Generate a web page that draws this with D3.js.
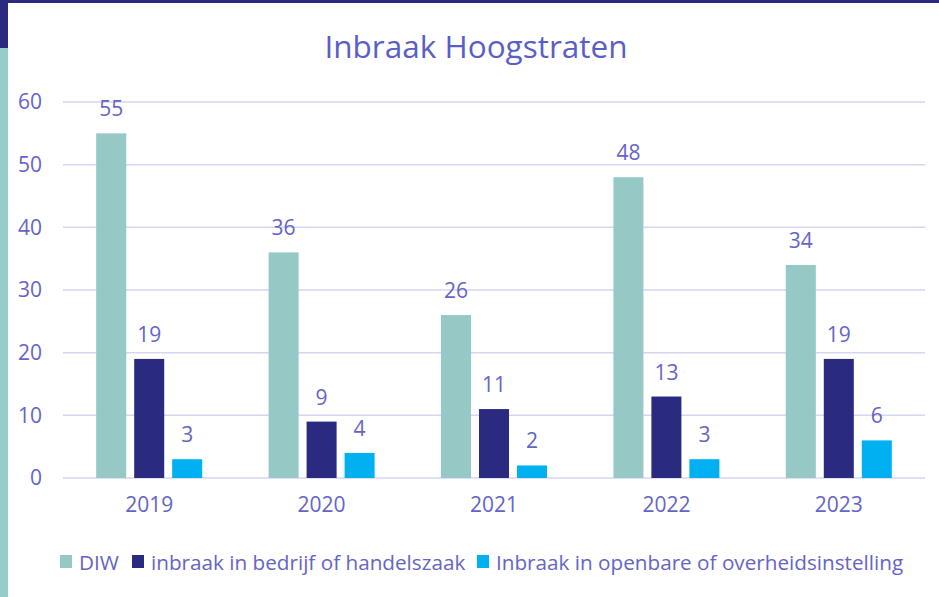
<!DOCTYPE html>
<html lang="nl">
<head>
<meta charset="UTF-8">
<title>Inbraak Hoogstraten</title>
<script src="https://d3js.org/d3.v7.min.js"></script>
<style>
  body { margin: 0; background: #fff; }
  svg { display: block; font-family: "Open Sans", sans-serif; }
  .tick text { fill: #6464c8; font-family: "Open Sans", sans-serif; }
</style>
</head>
<body>
<svg width="939" height="597"></svg>
<script>
const years = ["2019", "2020", "2021", "2022", "2023"];
const series = ["DIW", "inbraak in bedrijf of handelszaak", "Inbraak in openbare of overheidsinstelling"];
const diw = [55, 36, 26, 48, 34];
const bedrijf = [19, 9, 11, 13, 19];
const openbaar = [3, 4, 2, 3, 6];
const yTicks = [0, 10, 20, 30, 40, 50, 60];
const colors = ["#96c8c6", "#2a2a80", "#00b0f0"];
const textColor = "#6464c8";

const svg = d3.select("svg");
const margin = { left: 63, right: 14, top: 102, bottom: 119 };
const W = 939, H = 597;

// frame decoration
svg.append("rect").attr("x", 0).attr("y", 0).attr("width", W).attr("height", 3).attr("fill", "#2a2a80");
svg.append("rect").attr("x", 0).attr("y", 0).attr("width", 8).attr("height", 48).attr("fill", "#2a2a80");
svg.append("rect").attr("x", 0).attr("y", 48).attr("width", 8).attr("height", H - 48).attr("fill", "#96cdcb");

const x = d3.scaleBand().domain(years).range([margin.left, W - margin.right]);
const y = d3.scaleLinear().domain([0, 60]).range([H - margin.bottom, margin.top]);

// title
svg.append("text")
  .attr("x", 476).attr("y", 58)
  .attr("text-anchor", "middle")
  .attr("font-size", 31.5)
  .attr("fill", "#5a5fc8")
  .text("Inbraak Hoogstraten");

// gridlines
svg.append("g")
  .selectAll("line").data(yTicks).join("line")
  .attr("x1", margin.left).attr("x2", W - margin.right)
  .attr("y1", d => y(d)).attr("y2", d => y(d))
  .attr("stroke", "#d6d6f2").attr("stroke-width", 1.5);

// y axis labels
const yAxis = svg.append("g")
  .attr("transform", `translate(${margin.left},0)`)
  .call(d3.axisLeft(y).tickValues(yTicks).tickSize(0).tickPadding(21));
yAxis.select(".domain").remove();
yAxis.selectAll("text").attr("font-size", 21);

// x axis labels
const xAxis = svg.append("g")
  .attr("transform", `translate(0,${y(0)})`)
  .call(d3.axisBottom(x).tickSize(0).tickPadding(19));
xAxis.select(".domain").remove();
xAxis.selectAll("text").attr("font-size", 21);

// bars
const data = [diw, bedrijf, openbaar];
const inner = d3.scaleBand().domain(d3.range(3)).range([0, 106]).paddingInner(0.21);
const groups = svg.append("g").selectAll("g").data(years).join("g")
  .attr("transform", d => `translate(${x(d) + x.bandwidth() / 2 - 53},0)`);

groups.each(function (yr, i) {
  const g = d3.select(this);
  const vals = data.map((s, k) => ({ k, v: s[i] }));
  g.selectAll("rect").data(vals).join("rect")
    .attr("x", d => inner(d.k))
    .attr("width", inner.bandwidth())
    .attr("y", d => y(d.v))
    .attr("height", d => y(0) - y(d.v))
    .attr("fill", d => colors[d.k]);
  g.selectAll("text").data(vals).join("text")
    .attr("x", d => inner(d.k) + inner.bandwidth() / 2)
    .attr("y", d => y(d.v) - 17)
    .attr("text-anchor", "middle")
    .attr("font-size", 21)
    .attr("fill", textColor)
    .text(d => d.v);
});

// legend
const legendX = [60, 132, 477];
const leg = svg.append("g").selectAll("g").data(series).join("g")
  .attr("transform", (d, i) => `translate(${legendX[i]},562)`);
leg.append("rect").attr("x", 0).attr("y", -7).attr("width", 12).attr("height", 13)
  .attr("fill", (d, i) => colors[i]);
leg.append("text").attr("x", 19).attr("y", 8)
  .attr("font-size", 20.7).attr("fill", textColor)
  .text(d => d);
</script>
</body>
</html>
